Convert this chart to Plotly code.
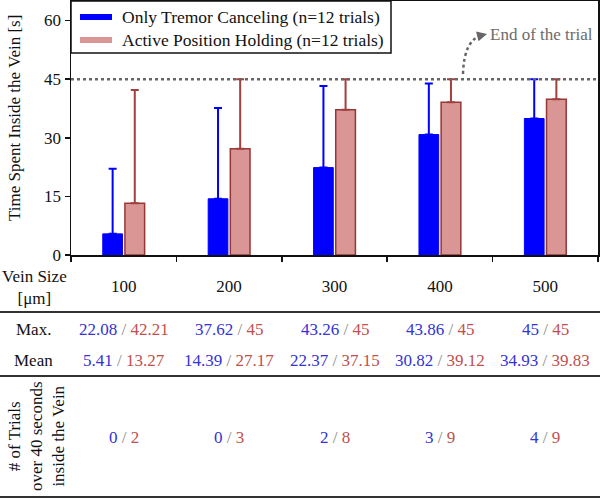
import plotly.graph_objects as go

vein_sizes = ["100", "200", "300", "400", "500"]
tremor_mean = [5.41, 14.39, 22.37, 30.82, 34.93]
tremor_max = [22.08, 37.62, 43.26, 43.86, 45]
holding_mean = [13.27, 27.17, 37.15, 39.12, 39.83]
holding_max = [42.21, 45, 45, 45, 45]
tremor_over40 = [0, 0, 2, 3, 4]
holding_over40 = [2, 3, 8, 9, 9]
y_ticks = [0, 15, 30, 45, 60]
trial_end = 45
series_names = ["Only Tremor Canceling (n=12 trials)",
                "Active Position Holding (n=12 trials)"]

W, H = 600, 499
L, R, T, B = 71, 2, 1, 244
PW = W - L - R
PH = H - T - B
BOTTOM = H - B


def px(x):
    return (x - L) / PW


def py(y):
    return (BOTTOM - y) / PH


FONT = "Liberation Serif"
BLUE = "#0000FF"
PINK = "#D99694"
PINK_DARK = "#953735"
BLUE_TXT = "#3333D6"
RED_TXT = "#C0504D"
GRAY = "#666666"
TXT = "#111111"

fig = go.Figure()

fig.add_trace(go.Bar(
    x=vein_sizes, y=tremor_mean, name=series_names[0],
    marker=dict(color=BLUE, line=dict(color=BLUE, width=1)),
    error_y=dict(type="data", symmetric=False,
                 array=[m - a for m, a in zip(tremor_max, tremor_mean)],
                 arrayminus=[0] * 5, color=BLUE, thickness=2, width=4),
    showlegend=False, hoverinfo="skip",
))
fig.add_trace(go.Bar(
    x=vein_sizes, y=holding_mean, name=series_names[1],
    marker=dict(color=PINK, line=dict(color=PINK_DARK, width=1.5)),
    error_y=dict(type="data", symmetric=False,
                 array=[m - a for m, a in zip(holding_max, holding_mean)],
                 arrayminus=[0] * 5, color="#A0403F", thickness=2, width=4),
    showlegend=False, hoverinfo="skip",
))

shapes = []
shapes.append(dict(type="line", xref="paper", yref="y", x0=0, x1=1,
                   y0=trial_end, y1=trial_end,
                   line=dict(color=GRAY, width=2.5, dash="dot"), layer="above"))
shapes.append(dict(type="path", xref="paper", yref="paper",
                   path=f"M {px(463)},{py(74)} Q {px(464)},{py(40)} {px(482)},{py(35)}",
                   line=dict(color=GRAY, width=2.5, dash="dot")))
for yline in [312, 376, 497]:
    shapes.append(dict(type="line", xref="paper", yref="paper",
                       x0=px(0), x1=px(600), y0=py(yline), y1=py(yline),
                       line=dict(color="#333333", width=2)))

# legend box
shapes.append(dict(type="rect", xref="paper", yref="paper",
                   x0=px(71), x1=px(391), y0=py(53), y1=py(1),
                   fillcolor="white", line=dict(color=TXT, width=1.5), layer="above"))
for yy, col in [(17, BLUE), (40, PINK)]:
    shapes.append(dict(type="line", xref="paper", yref="paper",
                       x0=px(80), x1=px(112), y0=py(yy), y1=py(yy),
                       line=dict(color=col, width=6), layer="above"))

ann = []


def label(xp, yp, text, size=17, color=TXT, angle=0, xanchor="center"):
    ann.append(dict(xref="paper", yref="paper", x=px(xp), y=py(yp), text=text,
                    textangle=angle, showarrow=False, xanchor=xanchor, yanchor="middle",
                    font=dict(family=FONT, size=size, color=color)))


label(120, 17, series_names[0], size=17.5, xanchor="left")
label(120, 40, series_names[1], size=17.5, xanchor="left")
label(488, 34, "End of the trial", size=17, color="#6B6B6B", xanchor="left")
ann.append(dict(xref="paper", yref="paper", x=px(487), y=py(34), text="",
                showarrow=True, ax=-6, ay=1.5, arrowhead=2, arrowsize=1,
                arrowwidth=2, arrowcolor=GRAY, standoff=0))
label(15, 118, "Time Spent Inside the Vein [s]", angle=-90)
label(34, 287, "Vein Size<br>[μm]")
label(33, 329, "Max.")
label(33, 360, "Mean")
label(36, 436, "# of Trials<br>over 40 seconds<br>inside the Vein", size=17, angle=-90)


def pair(a, b):
    return (f'<span style="color:{BLUE_TXT}">{a}</span>'
            f'<span style="color:#8C8C8C"> / </span>'
            f'<span style="color:{RED_TXT}">{b}</span>')


for i, v in enumerate(vein_sizes):
    for ypix, a, b in [(329, tremor_max[i], holding_max[i]),
                       (360, tremor_mean[i], holding_mean[i]),
                       (437, tremor_over40[i], holding_over40[i])]:
        ann.append(dict(xref="x", yref="paper", x=i, y=py(ypix), text=pair(a, b),
                        showarrow=False, xanchor="center", yanchor="middle",
                        font=dict(family=FONT, size=17)))

fig.update_layout(
    width=W, height=H,
    margin=dict(l=L, r=R, t=T, b=B, autoexpand=False),
    paper_bgcolor="white", plot_bgcolor="white",
    barmode="group", bargap=0.58, bargroupgap=0.11,
    font=dict(family=FONT, size=17, color=TXT),
    hovermode=False, showlegend=False,
    xaxis=dict(type="category", categoryorder="array", categoryarray=vein_sizes,
               range=[-0.5, len(vein_sizes) - 0.5], autorange=False, automargin=False,
               tickson="boundaries", ticks="outside", ticklen=5, tickwidth=1.5,
               tickcolor=TXT, showline=True, linecolor=TXT, linewidth=1.5,
               mirror=True, showgrid=False, ticklabelstandoff=15, tickangle=0,
               tickfont=dict(family=FONT, size=17, color=TXT)),
    yaxis=dict(range=[0, 65], autorange=False, automargin=False, tickvals=y_ticks,
               ticks="outside", ticklen=5,
               tickwidth=1.5, tickcolor=TXT, showline=True,
               linecolor=TXT, linewidth=1.5, mirror=True, showgrid=False,
               zeroline=False, tickfont=dict(family=FONT, size=17, color=TXT)),
    shapes=shapes, annotations=ann,
)

fig.write_html("out.html", config={"displayModeBar": False, "staticPlot": True},
               post_script="document.body.style.margin='0';document.body.style.padding='0';")
